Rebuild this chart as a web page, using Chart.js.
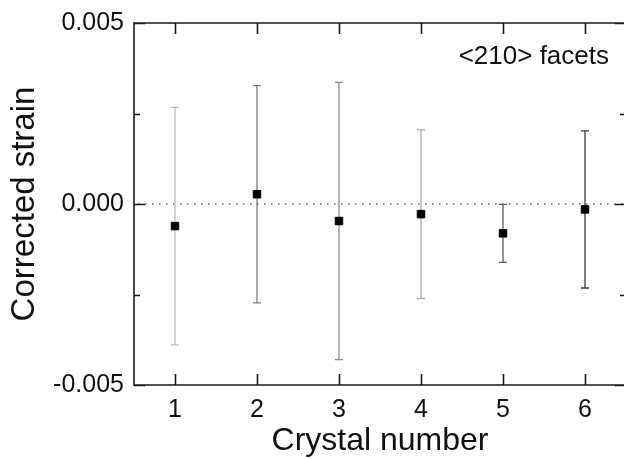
<!DOCTYPE html>
<html>
<head>
<meta charset="utf-8">
<script src="https://cdn.jsdelivr.net/npm/chart.js@4.4.1/dist/chart.umd.min.js"></script>
<style>
  html, body { margin: 0; padding: 0; background: #fff; overflow: hidden; }
  #chart { display: block; }
</style>
</head>
<body>
<canvas id="chart" width="630" height="459"></canvas>
<script>
// Corrected strain per crystal, <210> facets
const crystals = [1, 2, 3, 4, 5, 6];
const strain = [-0.00061, 0.00027, -0.00047, -0.00028, -0.00081, -0.00015];
const strainErr = [0.00328, 0.0030, 0.00383, 0.00233, 0.00080, 0.00217];
const errColors = ['#bdbdbd', '#7a7a7a', '#8a8a8a', '#ababab', '#5e5e5e', '#3a3a3a'];

const yTicks = [-0.005, -0.0025, 0, 0.0025, 0.005];
const yTickLabels = ['-0.005', '', '0.000', '', '0.005'];
const yMajor = [true, false, true, false, true];

const FONT = "'Liberation Sans', Arial, Helvetica, sans-serif";

// error bars + dotted zero line, under the markers
const errorBars = {
    id: 'errorBars',
    beforeDatasetsDraw(chart) {
        const { ctx, chartArea, scales: { x, y } } = chart;
        ctx.save();
        // zero line
        ctx.strokeStyle = '#6e6e6e';
        ctx.lineWidth = 1.6;
        ctx.setLineDash([1.6, 5.4]);
        ctx.beginPath();
        ctx.moveTo(chartArea.left + 4, y.getPixelForValue(0));
        ctx.lineTo(chartArea.right, y.getPixelForValue(0));
        ctx.stroke();
        ctx.setLineDash([]);

        crystals.forEach((c, i) => {
            const px = x.getPixelForValue(c);
            const top = y.getPixelForValue(strain[i] + strainErr[i]);
            const bot = y.getPixelForValue(strain[i] - strainErr[i]);
            ctx.strokeStyle = errColors[i];
            ctx.lineWidth = 1.3;
            ctx.beginPath();
            ctx.moveTo(px, top);
            ctx.lineTo(px, bot);
            ctx.moveTo(px - 4, top);
            ctx.lineTo(px + 4, top);
            ctx.moveTo(px - 4, bot);
            ctx.lineTo(px + 4, bot);
            ctx.stroke();
        });
        ctx.restore();
    }
};

// inward ticks on all four sides + label text
const frameTicks = {
    id: 'frameTicks',
    afterDraw(chart) {
        const { ctx, chartArea: a, scales: { x, y } } = chart;
        ctx.save();
        ctx.strokeStyle = '#1a1a1a';
        ctx.lineWidth = 1.6;
        ctx.beginPath();
        // frame (right edge falls just outside the picture)
        ctx.rect(a.left, a.top, a.right - a.left, a.bottom - a.top);
        crystals.forEach(c => {
            const px = Math.round(x.getPixelForValue(c)) + 0.5;
            ctx.moveTo(px, a.bottom);
            ctx.lineTo(px, a.bottom - 11);
            ctx.moveTo(px, a.top);
            ctx.lineTo(px, a.top + 11);
        });
        yTicks.forEach((v, i) => {
            const py = Math.round(y.getPixelForValue(v)) + 0.5;
            const len = yMajor[i] ? 11 : 6;
            ctx.moveTo(a.left, py);
            ctx.lineTo(a.left + len, py);
            ctx.moveTo(a.right, py);
            ctx.lineTo(a.right - len, py);
        });
        ctx.stroke();

        ctx.fillStyle = '#111';
        ctx.font = '26px ' + FONT;
        ctx.textAlign = 'right';
        ctx.textBaseline = 'alphabetic';
        ctx.fillText('<210> facets', 609, 64);
        ctx.restore();
    }
};

new Chart(document.getElementById('chart'), {
    type: 'scatter',
    data: {
        datasets: [{
            label: '<210> facets',
            data: crystals.map((c, i) => ({ x: c, y: strain[i] })),
            pointStyle: 'rect',
            pointRadius: 5.3,
            pointBorderWidth: 1,
            backgroundColor: '#000',
            borderColor: '#000'
        }]
    },
    options: {
        responsive: false,
        animation: false,
        layout: { autoPadding: false, padding: { top: 23, right: 4, left: 0, bottom: 0 } },
        plugins: {
            legend: { display: false },
            tooltip: { enabled: false }
        },
        scales: {
            x: {
                type: 'linear',
                min: 0.5,
                max: 6.5,
                afterBuildTicks: s => { s.ticks = crystals.map(v => ({ value: v })); },
                afterFit: s => { s.height = 74; s.paddingLeft = 0; s.paddingRight = 0; },
                grid: { display: false, drawTicks: false },
                border: { display: false },
                ticks: {
                    color: '#111',
                    padding: 10,
                    font: { family: FONT, size: 25 },
                    callback: v => String(v)
                },
                title: {
                    display: true,
                    text: 'Crystal number',
                    color: '#111',
                    font: { family: FONT, size: 32, lineHeight: 1.1 },
                    padding: { top: 0, bottom: 0 }
                }
            },
            y: {
                min: -0.005,
                max: 0.005,
                afterBuildTicks: s => { s.ticks = yTicks.map(v => ({ value: v })); },
                afterFit: s => { s.width = 134; s.paddingTop = 0; s.paddingBottom = 0; },
                grid: { display: false, drawTicks: false },
                border: { display: false },
                ticks: {
                    color: '#111',
                    padding: 10,
                    font: { family: FONT, size: 25 },
                    callback: (v, i) => yTickLabels[i]
                },
                title: {
                    display: true,
                    text: 'Corrected strain',
                    color: '#111',
                    font: { family: FONT, size: 33, lineHeight: 1.1 },
                    padding: { top: 7, bottom: 0 }
                }
            }
        }
    },
    plugins: [errorBars, frameTicks]
});
</script>
</body>
</html>
